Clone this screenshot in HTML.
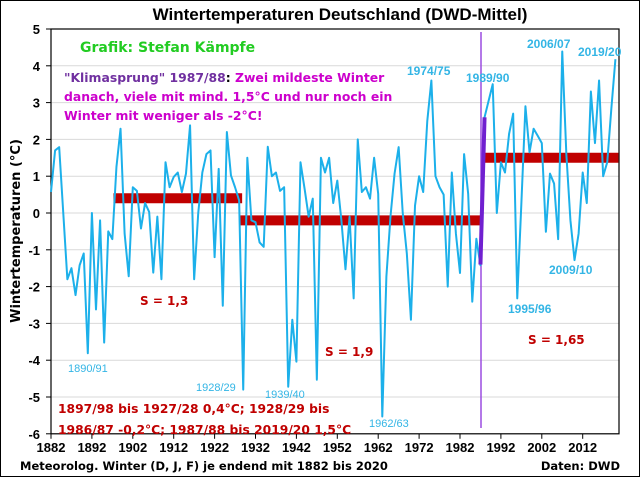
<!DOCTYPE html>
<html><head><meta charset="utf-8"><style>
body{margin:0;background:#fff}
svg{display:block;font-family:"Liberation Sans",sans-serif}
.dv{font-family:"DejaVu Sans",sans-serif}
</style></head><body>
<svg id="c" width="640" height="477" viewBox="0 0 640 477">
<rect x="0.5" y="0.5" width="639" height="476" fill="#fff" stroke="#000"/>
<text x="340" y="20" text-anchor="middle" font-size="17" font-weight="bold">Wintertemperaturen Deutschland (DWD-Mittel)</text>
<g id="grid"></g>
<g id="axes"></g>
<g id="bars"></g>
<g id="series"></g>
<text class="dv" x="80" y="52" font-size="14" font-weight="bold" fill="#22cc22">Grafik: Stefan Kämpfe</text>
<g class="dv" font-size="12.4" font-weight="bold">
<text x="64" y="82"><tspan fill="#7030a0">"Klimasprung" 1987/88</tspan><tspan fill="#000">: </tspan><tspan fill="#cc00cc">Zwei mildeste Winter</tspan></text>
<text x="64" y="101" fill="#cc00cc">danach, viele mit mind. 1,5°C und nur noch ein</text>
<text x="64" y="120" fill="#cc00cc">Winter mit weniger als -2°C!</text>
</g>
<g class="dv" font-size="12" font-weight="bold" fill="#c00000">
<text x="140" y="305">S = 1,3</text>
<text x="325" y="356">S = 1,9</text>
<text x="528" y="344">S = 1,65</text>
<text x="58" y="413" font-size="12.3">1897/98 bis 1927/28 0,4°C; 1928/29 bis</text>
<text x="58" y="434" font-size="12.3">1986/87 -0,2°C; 1987/88 bis 2019/20 1,5°C</text>
</g>
<g font-size="11" fill="#33b5e5">
<text x="68" y="372">1890/91</text>
<text x="196" y="391">1928/29</text>
<text x="265" y="398">1939/40</text>
<text x="369" y="427">1962/63</text>
</g>
<g font-size="12" font-weight="bold" fill="#33b5e5">
<text x="407" y="75">1974/75</text>
<text x="466" y="82">1989/90</text>
<text x="527" y="48">2006/07</text>
<text x="578" y="56">2019/20</text>
<text x="508" y="313">1995/96</text>
<text x="549" y="274">2009/10</text>
</g>
<text class="dv" transform="translate(20,231) rotate(-90)" text-anchor="middle" font-size="13" font-weight="bold">Wintertemperaturen (°C)</text>
<text class="dv" x="20" y="470" font-size="11.5" font-weight="bold">Meteorolog. Winter (D, J, F) je endend mit 1882 bis 2020</text>
<text class="dv" x="620" y="470" text-anchor="end" font-size="11.5" font-weight="bold">Daten: DWD</text>
</svg>
<script>
const years=[];for(let i=1882;i<=2020;i++)years.push(i);
const temps=[0.57,1.7,1.79,0,-1.8,-1.5,-2.23,-1.42,-1.1,-3.81,0,-2.62,-0.2,-3.52,-0.5,-0.71,1.25,2.29,-0.56,-1.72,
0.7,0.6,-0.42,0.27,0.03,-1.62,-0.1,-1.8,1.38,0.7,0.98,1.1,0.57,1.07,2.38,-1.8,0,1.1,1.6,1.7,
-1.2,1.2,-2.52,2.2,1.02,0.7,0.34,-4.8,1.5,-0.2,-0.25,-0.8,-0.92,1.8,1.0,1.1,0.6,0.7,-4.72,-2.9,
-4.04,1.38,0.66,-0.1,0.39,-4.53,1.5,1.1,1.5,0.27,0.88,-0.2,-1.53,-0.1,-2.32,2.0,0.57,0.7,0.39,1.5,
0.52,-5.53,-1.73,-0.1,1.07,1.79,0,-1.1,-2.9,0.2,1.0,0.57,2.5,3.6,1.0,0.7,0.5,-2.0,1.1,-0.56,
-1.63,1.6,0.52,-2.41,-0.7,-1.42,2.6,3.05,3.5,0,1.38,1.1,2.15,2.7,-2.32,0.25,2.9,1.65,2.29,2.1,
1.9,-0.51,1.07,0.8,-0.71,4.39,1.6,-0.2,-1.28,-0.56,1.1,0.27,3.3,1.9,3.6,1.0,1.38,2.83,4.18];
const yTicks=[5,4,3,2,1,0,-1,-2,-3,-4,-5,-6];
const xTicks=[1882,1892,1902,1912,1922,1932,1942,1952,1962,1972,1982,1992,2002,2012];
const periodStart=[1898,1929,1988];
const periodEnd=[1928,1987,2020];
const periodMean=[0.4,-0.2,1.5];
const jumpYears=[1987,1988];
const jumpVals=[-1.4,2.6];
const NS='http://www.w3.org/2000/svg';
const X=yr=>51+(yr-1882)*4.09;
const Y=v=>213-v*36.8;
function mk(tag,attrs,parent){const e=document.createElementNS(NS,tag);for(const k in attrs)e.setAttribute(k,attrs[k]);document.getElementById(parent).appendChild(e);return e;}
yTicks.forEach(v=>{
 if(v>-6&&v<5){const g=mk('line',{x1:51,x2:619,y1:Y(v),y2:Y(v),stroke:'#d9d9d9','stroke-width':1},'grid');
 
 }
 const t=mk('text',{x:40,y:Y(v)+5,'text-anchor':'end','font-size':13,'font-weight':'bold'},'axes');t.textContent=v;
 
 
 mk('line',{x1:46,x2:51,y1:Y(v),y2:Y(v),stroke:'#000'},'axes');
});
xTicks.forEach(yr=>{
 const t=mk('text',{x:X(yr),y:452,'text-anchor':'middle','font-size':13,'font-weight':'bold'},'axes');t.textContent=yr;
 
 
 mk('line',{x1:X(yr),x2:X(yr),y1:Y(-6),y2:Y(-6)+5,stroke:'#000'},'axes');
});
const pa=mk('rect',{x:51,y:Y(5),width:568,height:Y(-6)-Y(5),fill:'none',stroke:'#000','stroke-width':1.2},'axes');


periodStart.forEach((s,i)=>{
 const b=mk('line',{x1:X(s)-3,x2:X(periodEnd[i])+3,y1:Y(periodMean[i]),y2:Y(periodMean[i]),stroke:'#c00000','stroke-width':10},'bars');
 
 
});
const vl=mk('line',{x1:481,x2:481,y1:32,y2:428,stroke:'#9b4de0','stroke-width':1.5},'bars');


const pl=mk('polyline',{points:years.map((y,i)=>X(y)+','+Y(temps[i])).join(' '),fill:'none',stroke:'#1cb0ea','stroke-width':2,'stroke-linejoin':'round'},'series');


const jl=mk('line',{x1:X(jumpYears[0]),y1:Y(jumpVals[0]),x2:X(jumpYears[1]),y2:Y(jumpVals[1]),stroke:'#7020d0','stroke-width':4},'series');


</script>
</body></html>
